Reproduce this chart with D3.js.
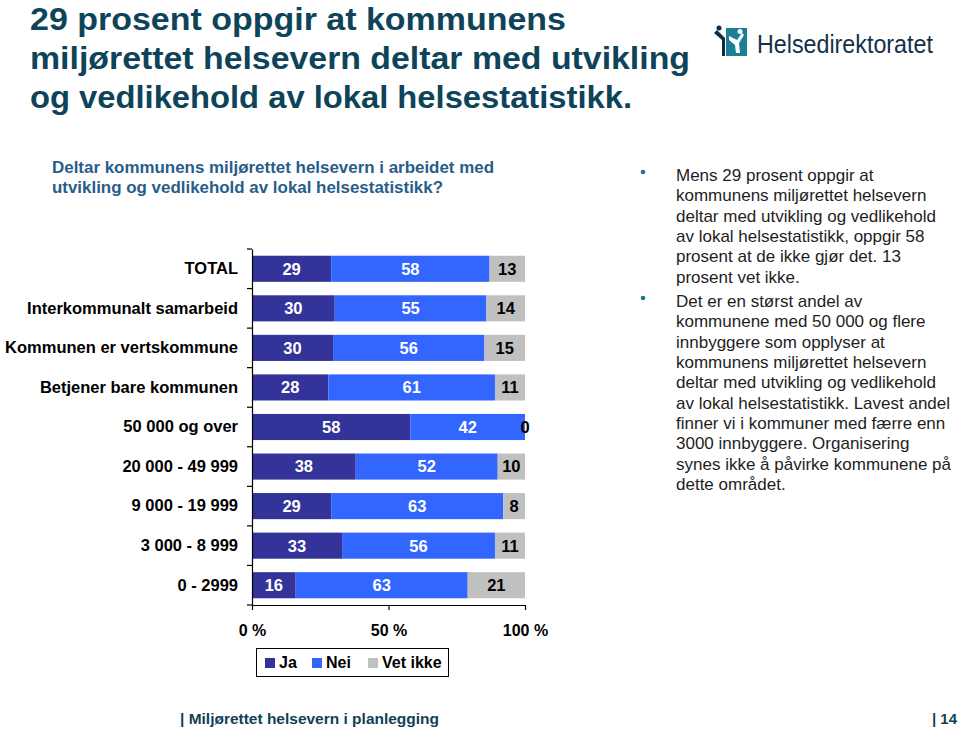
<!DOCTYPE html>
<html>
<head>
<meta charset="utf-8">
<script src="https://cdn.jsdelivr.net/npm/d3@7"></script>
<style>
  html, body { margin: 0; padding: 0; background: #fff; }
  svg { display: block; font-family: "Liberation Sans", Arial, Helvetica, sans-serif; }
</style>
</head>
<body>
<svg id="chart" width="960" height="729"></svg>
<script>
// ---- Data ----
const categories = ["TOTAL", "Interkommunalt samarbeid", "Kommunen er vertskommune", "Betjener bare kommunen",
  "50 000 og over", "20 000 - 49 999", "9 000 - 19 999", "3 000 - 8 999", "0 - 2999"];
const ja      = [29, 30, 30, 28, 58, 38, 29, 33, 16];
const nei     = [58, 55, 56, 61, 42, 52, 63, 56, 63];
const vetIkke = [13, 14, 15, 11, 0, 10, 8, 11, 21];
const seriesNames = ["Ja", "Nei", "Vet ikke"];
const xTicks = [0, 0.5, 1];
const xTickLabels = ["0 %", "50 %", "100 %"];

const titleLines = ["29 prosent oppgir at kommunens", "miljørettet helsevern deltar med utvikling", "og vedlikehold av lokal helsestatistikk."];
const subtitleLines = ["Deltar kommunens miljørettet helsevern i arbeidet med", "utvikling og vedlikehold av lokal helsestatistikk?"];
const bullet1 = ["Mens 29 prosent oppgir at", "kommunens miljørettet helsevern", "deltar med utvikling og vedlikehold",
  "av lokal helsestatistikk, oppgir 58", "prosent at de ikke gjør det. 13", "prosent vet ikke."];
const bullet2 = ["Det er en størst andel av", "kommunene med 50 000 og flere", "innbyggere som opplyser at",
  "kommunens miljørettet helsevern", "deltar med utvikling og vedlikehold", "av lokal helsestatistikk. Lavest andel",
  "finner vi i kommuner med færre enn", "3000 innbyggere. Organisering", "synes ikke å påvirke kommunene på", "dette området."];

const colors = ["#333399", "#3366FF", "#C0C0C0"];
const labelColors = ["#ffffff", "#ffffff", "#000000"];

const svg = d3.select("#chart");

// ---- Title ----
const titleColor = "#0e4459";
const titleWidths = [536, 660, 602];
svg.append("g").selectAll("text").data(titleLines).join("text")
  .attr("x", 30).attr("y", (d, i) => 30 + i * 39)
  .attr("font-size", 31).attr("font-weight", "bold").attr("fill", titleColor)
  .attr("textLength", (d, i) => titleWidths[i]).attr("lengthAdjust", "spacingAndGlyphs")
  .text(d => d);

// ---- Logo ----
const logo = svg.append("g");
logo.append("rect").attr("x", 726).attr("y", 28).attr("width", 21).attr("height", 28).attr("fill", "#1b7f95");
logo.append("path").attr("d", "M729,36 L737,40 L742,33 L744,35 L739,43 L740,53 L736,53 L735,45 L729,40 Z").attr("fill", "#fff");
logo.append("circle").attr("cx", 740).attr("cy", 31.5).attr("r", 2.5).attr("fill", "#fff");
logo.append("path").attr("d", "M714,33 L722,40 L722,56 L725,56 L725,38 L717,30 Z").attr("fill", "#0e2e44");
logo.append("circle").attr("cx", 719).attr("cy", 28).attr("r", 2.5).attr("fill", "#0e2e44");
logo.append("text").attr("transform", "translate(757,53) scale(0.97,1.1)").attr("font-size", 24).attr("fill", "#13304a")
  .text("Helsedirektoratet");

// ---- Subtitle ----
const subWidths = [442, 391];
svg.append("g").selectAll("text").data(subtitleLines).join("text")
  .attr("x", 52).attr("y", (d, i) => 173 + i * 20)
  .attr("font-size", 17).attr("font-weight", "bold").attr("fill", "#285d8a")
  .attr("textLength", (d, i) => subWidths[i]).attr("lengthAdjust", "spacingAndGlyphs")
  .text(d => d);

// ---- Chart ----
const x = d3.scaleLinear().domain([0, 1]).range([252, 525]);
const y = d3.scaleBand().domain(categories).range([249, 605]).paddingInner(0.34).paddingOuter(0.17);

const rows = categories.map((c, i) => {
  const vals = [ja[i], nei[i], vetIkke[i]];
  const total = d3.sum(vals);
  let acc = 0;
  return vals.map((v, k) => {
    const seg = { cat: c, k, v, x0: acc / total, x1: (acc + v) / total };
    acc += v;
    return seg;
  });
}).flat();

const gBars = svg.append("g");
gBars.selectAll("rect").data(rows).join("rect")
  .attr("x", d => x(d.x0)).attr("y", d => y(d.cat))
  .attr("width", d => x(d.x1) - x(d.x0)).attr("height", y.bandwidth())
  .attr("fill", d => colors[d.k]);

gBars.selectAll("text").data(rows).join("text")
  .attr("x", d => (x(d.x0) + x(d.x1)) / 2)
  .attr("y", d => y(d.cat) + y.bandwidth() / 2)
  .attr("dy", "0.36em").attr("text-anchor", "middle")
  .attr("font-size", 16.5).attr("font-weight", "bold")
  .attr("fill", d => labelColors[d.k])
  .text(d => d.v);

// y axis
const yAxis = svg.append("g").attr("transform", `translate(${x(0)},0)`)
  .call(d3.axisLeft(y).tickSize(0).tickPadding(14));
yAxis.select(".domain").attr("stroke", "#000").attr("stroke-width", 1.2);
yAxis.selectAll(".tick text").attr("font-size", 16.5).attr("font-weight", "bold").attr("fill", "#000")
  .attr("font-family", "'Liberation Sans', Arial, sans-serif");
// boundary ticks
const bounds = categories.map(c => y(c) - y.step() * y.paddingInner() / 2).concat([605]);
bounds[0] = 249;
yAxis.selectAll(".bt").data(bounds).join("line").attr("class", "bt")
  .attr("x1", -5).attr("x2", 0).attr("y1", d => d).attr("y2", d => d)
  .attr("stroke", "#000").attr("stroke-width", 1.2);

// x axis
const xAxis = svg.append("g").attr("transform", "translate(0,605)")
  .call(d3.axisBottom(x).tickValues(xTicks).tickFormat((d, i) => xTickLabels[i]).tickSize(5).tickPadding(15).tickSizeOuter(0));
xAxis.select(".domain").attr("stroke", "#000").attr("stroke-width", 1.2);
xAxis.selectAll(".tick line").attr("stroke", "#000").attr("stroke-width", 1.2);
xAxis.selectAll(".tick text").attr("font-size", 16).attr("font-weight", "bold").attr("fill", "#000")
  .attr("font-family", "'Liberation Sans', Arial, sans-serif");

// legend
const legend = svg.append("g");
legend.append("rect").attr("x", 256.5).attr("y", 648.5).attr("width", 192).attr("height", 28)
  .attr("fill", "#fff").attr("stroke", "#000").attr("stroke-width", 1);
const legX = [265, 312, 368];
const li = legend.selectAll("g.li").data(seriesNames).join("g").attr("class", "li")
  .attr("transform", (d, i) => `translate(${legX[i]},658)`);
li.append("rect").attr("width", 10).attr("height", 10).attr("fill", (d, i) => colors[i]);
li.append("text").attr("x", 14).attr("y", 10).attr("font-size", 16).attr("font-weight", "bold").attr("fill", "#000").text(d => d);

// ---- Right text ----
const rt = svg.append("g").attr("font-size", 17).attr("fill", "#1e1e1e");
rt.selectAll("text.b1").data(bullet1).join("text").attr("class", "b1")
  .attr("x", 676).attr("y", (d, i) => 181 + i * 20.3).text(d => d);
rt.selectAll("text.b2").data(bullet2).join("text").attr("class", "b2")
  .attr("x", 676).attr("y", (d, i) => 307 + i * 20.35).text(d => d);
rt.append("circle").attr("cx", 643).attr("cy", 172).attr("r", 2.3).attr("fill", "#1a7a8a");
rt.append("circle").attr("cx", 643).attr("cy", 298).attr("r", 2.3).attr("fill", "#1a7a8a");

// ---- Footer ----
svg.append("text").attr("x", 180).attr("y", 724).attr("font-size", 15).attr("font-weight", "bold").attr("fill", "#123f55")
  .attr("textLength", 259).attr("lengthAdjust", "spacingAndGlyphs").text("| Miljørettet helsevern i planlegging");
svg.append("text").attr("x", 932).attr("y", 724).attr("font-size", 15).attr("font-weight", "bold").attr("fill", "#123f55")
  .attr("textLength", 25).attr("lengthAdjust", "spacingAndGlyphs").text("| 14");
</script>
</body>
</html>
